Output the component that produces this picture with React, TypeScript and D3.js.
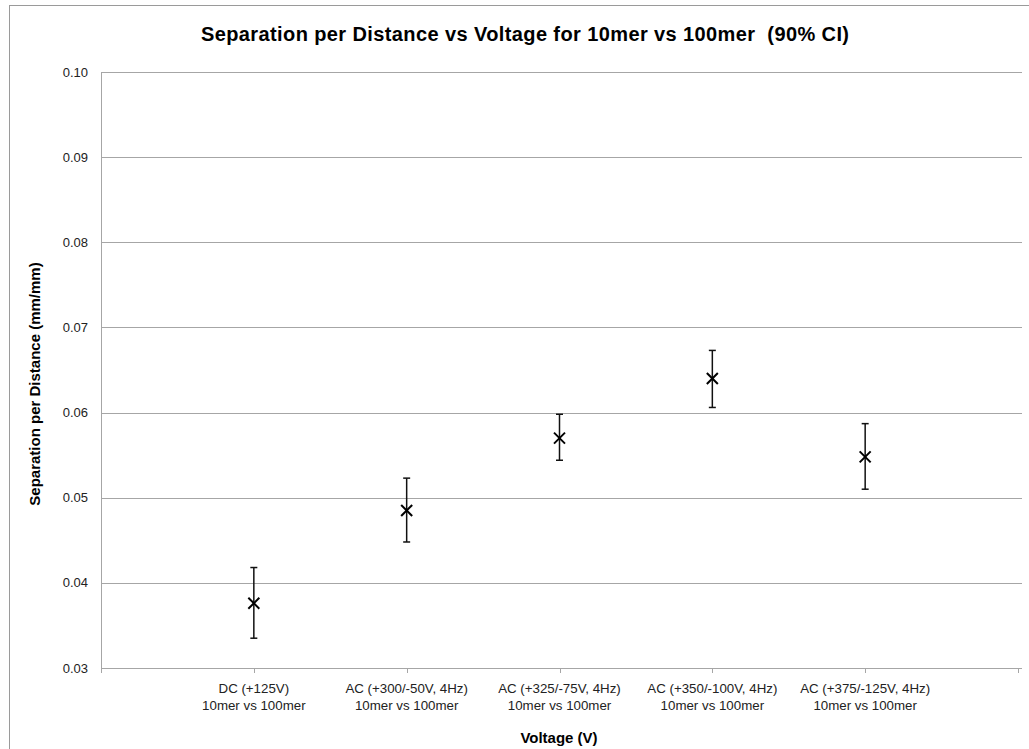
import React from "react";
import * as d3 from "d3";

// Category labels (two lines each)
const categories: string[][] = [
  ["DC (+125V)", "10mer vs 100mer"],
  ["AC (+300/-50V, 4Hz)", "10mer vs 100mer"],
  ["AC (+325/-75V, 4Hz)", "10mer vs 100mer"],
  ["AC (+350/-100V, 4Hz)", "10mer vs 100mer"],
  ["AC (+375/-125V, 4Hz)", "10mer vs 100mer"],
];

// Mean separation per distance and 90% CI bounds
const means = [0.0376, 0.0485, 0.0570, 0.0640, 0.0548];
const upper = [0.0418, 0.0523, 0.0598, 0.0673, 0.0587];
const lower = [0.0335, 0.0448, 0.0544, 0.0606, 0.0510];

const yTicks = [0.03, 0.04, 0.05, 0.06, 0.07, 0.08, 0.09, 0.10];

const W = 1029;
const H = 749;
const left = 101;
const right = 1018;
const top = 72;
const bottom = 668;

export default function App() {
  const x = d3.scaleLinear().domain([0, categories.length + 1]).range([left, right]);
  const y = d3.scaleLinear().domain([0.03, 0.1]).range([bottom, top]);
  const fmt = d3.format(".2f");
  const font = "'Liberation Sans', Arial, sans-serif";
  const grid = "#a6a6a6";
  const cap = 3.5;
  const m = 5.5;

  return (
    <svg
      width={W}
      height={H}
      style={{ position: "absolute", left: 0, top: 0, background: "#fff" }}
      fontFamily={font}
    >
      <rect x={9.5} y={5.5} width={W + 20} height={H + 20} fill="#fff" stroke="#9a9a9a" strokeWidth={1} />
      <text
        x={525}
        y={41}
        textAnchor="middle"
        fontSize={20}
        fontWeight="bold"
        fill="#000"
        textLength={648}
        lengthAdjust="spacing"
        style={{ whiteSpace: "pre" }}
      >
        {"Separation per Distance vs Voltage for 10mer vs 100mer  (90% CI)"}
      </text>

      {/* horizontal gridlines and y labels */}
      {yTicks.map((t) => (
        <g key={t}>
          <line x1={left} x2={right + 4} y1={Math.round(y(t)) + 0.5} y2={Math.round(y(t)) + 0.5} stroke={grid} strokeWidth={1} />
          <text x={88} y={y(t) + 4.5} textAnchor="end" fontSize={13} fill="#222">
            {fmt(t)}
          </text>
        </g>
      ))}

      {/* y axis line */}
      <line x1={left + 0.5} x2={left + 0.5} y1={top} y2={bottom + 5} stroke={grid} />

      {/* x ticks and category labels */}
      {d3.range(1, categories.length + 2).map((i) => (
        <line key={i} x1={Math.round(x(i)) + 0.5} x2={Math.round(x(i)) + 0.5} y1={bottom} y2={bottom + 5} stroke={grid} />
      ))}
      {categories.map((c, i) => (
        <text key={i} x={x(i + 1)} y={693} textAnchor="middle" fontSize={13.3} fill="#222">
          <tspan x={x(i + 1)} dy={0}>{c[0]}</tspan>
          <tspan x={x(i + 1)} dy={17}>{c[1]}</tspan>
        </text>
      ))}

      {/* error bars and markers */}
      {means.map((v, i) => {
        const cx = x(i + 1);
        const cy = y(v);
        return (
          <g key={i} stroke="#111">
            <line x1={cx} x2={cx} y1={y(upper[i])} y2={y(lower[i])} strokeWidth={1.5} />
            <line x1={cx - cap} x2={cx + cap} y1={y(upper[i])} y2={y(upper[i])} strokeWidth={1.5} />
            <line x1={cx - cap} x2={cx + cap} y1={y(lower[i])} y2={y(lower[i])} strokeWidth={1.5} />
            <line x1={cx - m} x2={cx + m} y1={cy - m} y2={cy + m} strokeWidth={2} stroke="#000" />
            <line x1={cx - m} x2={cx + m} y1={cy + m} y2={cy - m} strokeWidth={2} stroke="#000" />
          </g>
        );
      })}

      <text x={559} y={743} textAnchor="middle" fontSize={15} fontWeight="bold" fill="#000">
        Voltage (V)
      </text>
      <text
        transform={`translate(40, 384) rotate(-90)`}
        textAnchor="middle"
        fontSize={15}
        fontWeight="bold"
        fill="#000"
      >
        Separation per Distance (mm/mm)
      </text>
    </svg>
  );
}
